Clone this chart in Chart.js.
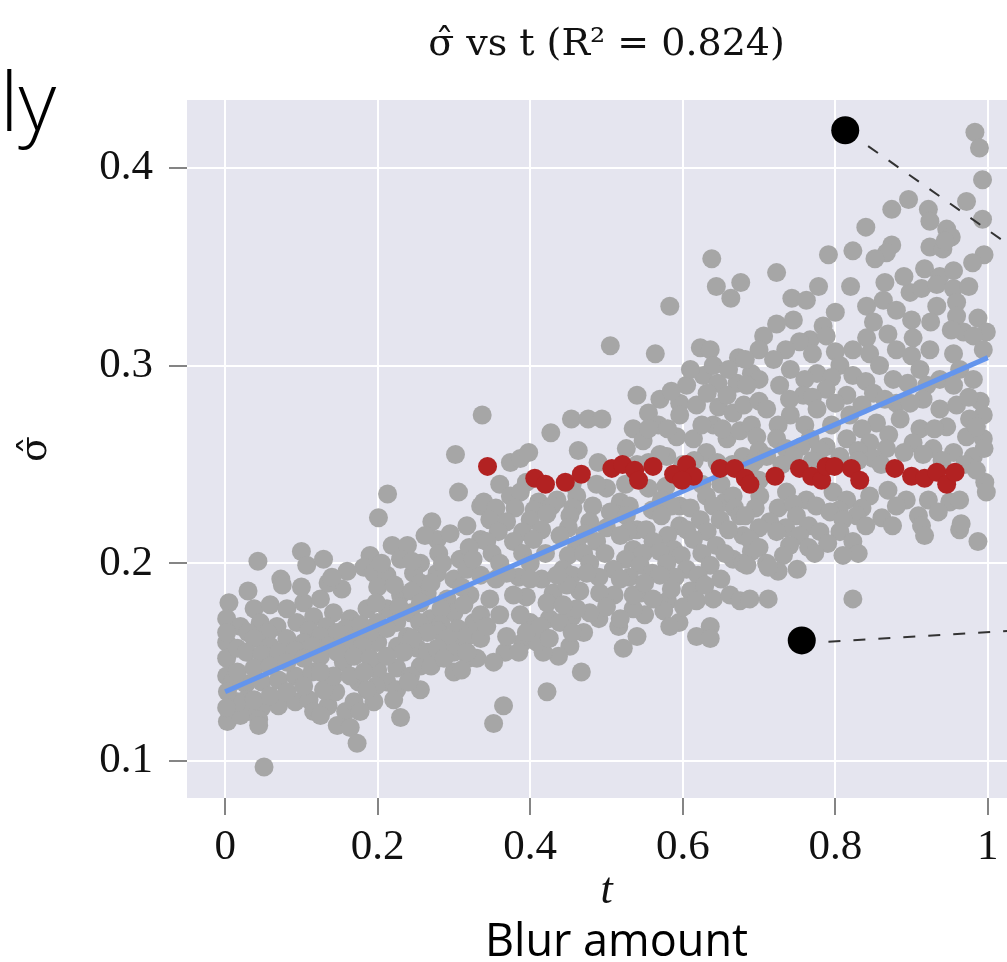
<!DOCTYPE html>
<html lang="es">
<head>
<meta charset="utf-8">
<title>sigma vs t</title>
<script src="https://cdn.jsdelivr.net/npm/chart.js@4.4.1/dist/chart.umd.min.js"></script>
<style>
  html, body { margin: 0; padding: 0; background: #fff; overflow: hidden; }
  #lienzo { position: relative; width: 1007px; height: 962px; overflow: hidden; }
  #graficoSigma { position: absolute; left: 0; top: 0; }
  .texto-diapo { position: absolute; font-family: 'Open Sans', 'Noto Sans', sans-serif; color: #000; white-space: nowrap; line-height: 1; }
  #textoLy { left: 0px; top: 58px; font-size: 82px; font-weight: 300; }
  #textoBlur { left: 485px; top: 916px; font-size: 45px; }
</style>
</head>
<body>
<div id="lienzo">
  <canvas id="graficoSigma" width="1046" height="962"></canvas>
  <div id="textoLy" class="texto-diapo">ly</div>
  <div id="textoBlur" class="texto-diapo">Blur amount</div>
</div>
<script>
// Valores: [t, sigma]
const puntosGris = [
  // zona alta
  [0.638,0.354],[0.644,0.340],[0.663,0.334],[0.676,0.342],[0.583,0.330],
  [0.983,0.418],[0.989,0.410],[0.993,0.394],[0.972,0.383],[0.993,0.374],[0.995,0.356],[0.896,0.384],[0.874,0.379],
  [0.922,0.379],[0.924,0.373],[0.946,0.369],[0.952,0.365],[0.840,0.370],[0.874,0.361],[0.867,0.357],[0.852,0.354],
  [0.823,0.358],[0.791,0.356],[0.924,0.360],[0.941,0.359],[0.944,0.363],[0.917,0.349],[0.937,0.345],[0.955,0.348],
  [0.865,0.342],[0.898,0.337],[0.913,0.339],[0.933,0.341],[0.955,0.339],[0.841,0.330],[0.863,0.333],[0.880,0.328],
  [0.900,0.323],[0.933,0.330],[0.959,0.332],[0.959,0.325],[0.987,0.324],[0.998,0.317],[0.723,0.347],[0.778,0.340],
  [0.743,0.334],[0.762,0.333],[0.745,0.323],[0.723,0.321],[0.784,0.320],[0.706,0.315],[0.841,0.314],[0.869,0.316],
  [0.902,0.314],[0.968,0.317],[0.952,0.318],[0.767,0.313],
  [0.800,0.327],[0.820,0.340],[0.850,0.322],[0.890,0.345],[0.975,0.340],[0.980,0.352],[0.925,0.322],
  // zona izquierda media
  [0.337,0.275],[0.302,0.255],[0.306,0.236],[0.213,0.235],[0.201,0.223],[0.317,0.219],[0.335,0.229],[0.271,0.221],
  [0.278,0.212],[0.219,0.209],[0.239,0.209],[0.280,0.205],[0.335,0.212],[0.190,0.204],[0.182,0.198],[0.230,0.202],
  [0.256,0.200],[0.308,0.202],[0.100,0.206],[0.107,0.199],[0.129,0.202],[0.043,0.201],[0.073,0.192],
  [0.295,0.215],[0.320,0.208],[0.262,0.214],
  // zona central
  [0.505,0.310],[0.564,0.306],[0.623,0.309],[0.636,0.308],[0.673,0.304],[0.627,0.295],[0.646,0.291],[0.671,0.291],
  [0.605,0.290],[0.540,0.285],[0.570,0.283],[0.596,0.281],[0.618,0.280],[0.647,0.279],[0.666,0.276],[0.555,0.276],
  [0.568,0.270],[0.596,0.275],[0.640,0.270],[0.535,0.268],[0.548,0.262],[0.592,0.264],[0.614,0.263],[0.658,0.263],
  [0.679,0.254],[0.526,0.258],[0.579,0.254],[0.631,0.256],[0.454,0.273],[0.476,0.273],[0.494,0.273],[0.427,0.266],
  [0.463,0.257],[0.374,0.251],[0.387,0.253],[0.398,0.256],[0.489,0.251],[0.570,0.255],
  [0.540,0.250],[0.555,0.251],[0.600,0.250],[0.615,0.252],[0.645,0.251],[0.665,0.250],[0.695,0.252],
  [0.555,0.268],[0.580,0.268],[0.625,0.270],[0.652,0.268],[0.675,0.267],
  [0.585,0.287],[0.632,0.286],[0.658,0.285],[0.680,0.280],
  [0.610,0.298],[0.640,0.300],[0.660,0.298],[0.690,0.296],
  [0.360,0.240],[0.395,0.241],[0.455,0.240],[0.500,0.238],[0.525,0.240],[0.578,0.239],[0.625,0.240],[0.650,0.240],
  [0.700,0.242],
  [0.339,0.231],[0.374,0.234],[0.387,0.236],[0.411,0.231],[0.435,0.232],[0.461,0.234],[0.487,0.240],[0.518,0.231],
  [0.555,0.238],[0.572,0.232],[0.596,0.229],[0.631,0.234],[0.655,0.231],[0.666,0.234],
  [0.355,0.228],[0.380,0.228],[0.405,0.227],[0.428,0.229],[0.456,0.228],[0.482,0.229],[0.505,0.226],[0.530,0.229],
  [0.560,0.227],[0.585,0.229],[0.610,0.228],[0.640,0.229],[0.668,0.228],
  [0.347,0.222],[0.369,0.221],[0.400,0.222],[0.422,0.225],[0.452,0.224],[0.478,0.221],[0.526,0.224],[0.540,0.217],
  [0.572,0.224],[0.596,0.219],[0.623,0.222],[0.649,0.222],[0.675,0.224],[0.679,0.214],
  [0.358,0.216],[0.390,0.216],[0.415,0.217],[0.450,0.218],[0.472,0.215],[0.500,0.218],[0.528,0.216],[0.552,0.217],
  [0.580,0.214],[0.605,0.217],[0.632,0.216],[0.660,0.217],
  [0.343,0.211],[0.378,0.211],[0.404,0.212],[0.439,0.214],[0.461,0.209],[0.487,0.211],[0.518,0.214],[0.535,0.207],
  [0.561,0.211],[0.588,0.207],[0.614,0.212],[0.644,0.209],[0.666,0.202],
  [0.350,0.205],[0.390,0.205],[0.420,0.205],[0.450,0.204],[0.470,0.205],[0.498,0.205],[0.525,0.202],[0.548,0.205],
  [0.570,0.206],[0.598,0.204],[0.625,0.205],[0.655,0.205],[0.690,0.206],
  [0.360,0.200],[0.400,0.200],[0.443,0.197],[0.478,0.200],[0.509,0.197],[0.544,0.199],[0.579,0.200],[0.605,0.197],
  [0.636,0.199],[0.679,0.200],
  [0.355,0.192],[0.385,0.193],[0.415,0.192],[0.455,0.194],[0.490,0.193],[0.530,0.193],[0.560,0.195],[0.590,0.193],
  [0.620,0.194],[0.650,0.192],
  [0.395,0.183],[0.430,0.185],[0.465,0.186],[0.510,0.184],[0.545,0.185],[0.580,0.181],[0.610,0.186],
  [0.400,0.170],[0.425,0.172],[0.455,0.173],[0.490,0.172],[0.550,0.174],[0.575,0.176],[0.595,0.170],
  [0.390,0.160],[0.452,0.158],[0.470,0.165],
  // zona derecha
  [0.753,0.312],[0.788,0.315],[0.823,0.308],[0.880,0.308],[0.924,0.308],[0.981,0.315],[0.994,0.308],
  [0.700,0.308],[0.735,0.308],[0.770,0.306],[0.800,0.307],[0.845,0.306],[0.900,0.305],[0.955,0.306],
  [0.682,0.303],[0.719,0.303],[0.741,0.298],[0.776,0.296],[0.806,0.300],[0.823,0.295],[0.858,0.300],[0.876,0.293],
  [0.911,0.298],[0.937,0.293],[0.963,0.298],[0.981,0.293],
  [0.700,0.293],[0.760,0.293],[0.795,0.294],[0.840,0.292],[0.895,0.291],[0.920,0.290],[0.955,0.290],
  [0.684,0.290],[0.727,0.290],[0.758,0.285],[0.788,0.288],[0.815,0.285],[0.850,0.286],[0.880,0.281],[0.915,0.283],
  [0.937,0.278],[0.959,0.280],[0.990,0.282],[0.994,0.275],[0.976,0.273],
  [0.700,0.282],[0.740,0.283],[0.770,0.284],[0.800,0.281],[0.835,0.280],[0.865,0.283],[0.898,0.281],[0.975,0.284],
  [0.710,0.278],[0.741,0.275],[0.776,0.278],[0.819,0.275],[0.854,0.271],[0.885,0.273],[0.911,0.268],[0.946,0.269],
  [0.972,0.264],[0.994,0.263],
  [0.690,0.270],[0.725,0.270],[0.760,0.270],[0.795,0.270],[0.835,0.268],[0.870,0.265],[0.930,0.268],[0.985,0.269],
  [0.697,0.264],[0.723,0.263],[0.767,0.263],[0.788,0.259],[0.815,0.263],[0.845,0.261],[0.867,0.258],[0.902,0.261],
  [0.928,0.258],[0.955,0.256],[0.981,0.254],
  [0.700,0.257],[0.735,0.258],[0.755,0.259],[0.780,0.257],[0.830,0.257],[0.890,0.256],[0.915,0.255],[0.940,0.252],
  [0.970,0.250],[0.995,0.258],
  [0.710,0.254],[0.745,0.254],[0.806,0.254],[0.850,0.253],[0.996,0.241],[0.998,0.236],
  [0.690,0.250],[0.730,0.250],[0.770,0.252],[0.830,0.252],[0.860,0.250],[0.985,0.247],
  [0.701,0.234],[0.736,0.236],[0.762,0.232],[0.797,0.236],[0.815,0.232],[0.845,0.234],[0.869,0.237],[0.893,0.232],
  [0.922,0.232],[0.950,0.231],[0.963,0.232],
  [0.695,0.228],[0.725,0.228],[0.745,0.230],[0.775,0.229],[0.805,0.227],[0.835,0.228],[0.880,0.229],[0.935,0.226],
  [0.682,0.224],[0.714,0.221],[0.749,0.224],[0.793,0.226],[0.828,0.224],[0.861,0.223],[0.909,0.224],[0.913,0.219],
  [0.700,0.218],[0.735,0.218],[0.765,0.219],[0.780,0.216],[0.810,0.222],[0.840,0.219],[0.875,0.219],
  [0.688,0.212],[0.723,0.216],[0.753,0.214],[0.806,0.216],[0.823,0.211],[0.917,0.214],[0.963,0.217],[0.965,0.220],
  [0.987,0.211],
  [0.700,0.208],[0.740,0.209],[0.765,0.208],[0.790,0.210],[0.830,0.205],
  [0.710,0.200],[0.773,0.205],[0.810,0.204],[0.732,0.204],[0.725,0.196],[0.750,0.197],
  // zona baja izquierda
  [0.075,0.189],[0.153,0.187],[0.005,0.180],[0.038,0.177],[0.059,0.179],[0.081,0.177],[0.103,0.180],[0.125,0.182],
  [0.030,0.186],[0.100,0.188],[0.135,0.190],[0.160,0.196],[0.140,0.193],
  [0.002,0.172],[0.020,0.168],[0.046,0.170],[0.068,0.168],[0.094,0.170],[0.116,0.173],[0.142,0.175],[0.164,0.172],
  [0.186,0.177],[0.195,0.195],[0.212,0.194],[0.247,0.195],[0.256,0.190],[0.278,0.195],[0.300,0.192],[0.317,0.197],
  [0.335,0.194],[0.230,0.184],[0.265,0.185],[0.291,0.182],[0.321,0.184],[0.212,0.177],[0.243,0.175],[0.269,0.172],
  [0.300,0.175],[0.326,0.170],
  [0.205,0.200],[0.245,0.201],[0.285,0.200],[0.325,0.202],
  [0.200,0.188],[0.222,0.189],[0.245,0.186],[0.270,0.190],[0.310,0.188],
  [0.198,0.180],[0.228,0.178],[0.256,0.180],[0.283,0.177],[0.313,0.179],
  [0.200,0.170],[0.225,0.170],[0.255,0.170],[0.283,0.169],[0.305,0.167],
  [0.030,0.165],[0.056,0.165],[0.110,0.166],[0.133,0.168],[0.158,0.167],[0.178,0.169],[0.200,0.160],[0.226,0.158],
  [0.252,0.157],[0.278,0.166],[0.304,0.160],
  [0.002,0.160],[0.002,0.152],[0.002,0.143],[0.016,0.157],[0.038,0.162],[0.059,0.158],[0.081,0.162],[0.103,0.160],
  [0.125,0.163],[0.147,0.165],[0.169,0.162],[0.190,0.165],[0.212,0.167],[0.239,0.163],[0.265,0.165],[0.291,0.162],
  [0.317,0.163],[0.319,0.152],[0.300,0.145],[0.256,0.148],[0.256,0.136],[0.212,0.140],[0.225,0.136],[0.221,0.131],
  [0.028,0.155],[0.048,0.154],[0.070,0.155],[0.092,0.156],[0.114,0.158],[0.136,0.158],[0.158,0.158],[0.180,0.158],
  [0.245,0.162],[0.265,0.155],[0.300,0.155],[0.330,0.152],
  [0.027,0.139],[0.048,0.140],[0.070,0.141],[0.092,0.143],[0.114,0.145],[0.200,0.146],[0.225,0.147],[0.243,0.143],
  [0.270,0.148],[0.310,0.146],[0.010,0.140],[0.155,0.150],[0.175,0.140],[0.198,0.138],[0.240,0.140],[0.135,0.140],
  [0.027,0.131],[0.048,0.127],[0.070,0.128],[0.092,0.130],[0.110,0.131],[0.135,0.128],[0.158,0.125],[0.195,0.130],
  [0.030,0.125],
  [0.230,0.122],[0.186,0.136],[0.169,0.130],[0.177,0.125],[0.145,0.135],[0.129,0.136],[0.116,0.125],[0.125,0.123],
  [0.147,0.118],[0.164,0.117],[0.173,0.109],[0.051,0.097],[0.003,0.120],[0.020,0.123],[0.044,0.121],[0.044,0.118],
  [0.016,0.130],[0.038,0.131],[0.059,0.133],[0.081,0.135],[0.103,0.138],[0.003,0.135],[0.016,0.145],[0.038,0.147],
  [0.059,0.148],[0.081,0.150],[0.103,0.152],[0.125,0.153],[0.147,0.155],[0.169,0.153],[0.190,0.152],[0.212,0.153],
  [0.234,0.155],[0.278,0.157],[0.287,0.152],[0.142,0.143],[0.164,0.143],[0.182,0.145],[0.125,0.145],[0.335,0.174],
  [0.335,0.162],[0.317,0.155],[0.002,0.127],[0.002,0.165],
  // zona baja central
  [0.365,0.128],[0.352,0.119],[0.422,0.135],[0.467,0.145],[0.437,0.153],[0.417,0.155],[0.367,0.155],[0.522,0.157],
  [0.540,0.163],[0.516,0.168],[0.583,0.168],[0.636,0.168],[0.618,0.163],[0.636,0.162],[0.601,0.178],[0.618,0.181],
  [0.640,0.182],[0.662,0.184],[0.675,0.181],[0.629,0.189],[0.570,0.194],[0.585,0.187],[0.561,0.182],[0.535,0.177],
  [0.518,0.172],[0.478,0.175],[0.461,0.177],[0.491,0.185],[0.518,0.192],[0.535,0.184],[0.474,0.195],[0.448,0.189],
  [0.422,0.180],[0.413,0.168],[0.409,0.160],[0.369,0.163],[0.360,0.174],[0.387,0.174],[0.347,0.182],[0.378,0.184],
  [0.400,0.192],[0.435,0.194],[0.369,0.195],[0.343,0.168],[0.439,0.170],[0.443,0.179],
  [0.395,0.165],[0.425,0.162],[0.455,0.165],[0.385,0.155],[0.352,0.150],[0.500,0.178],[0.550,0.190],
  [0.688,0.182],[0.712,0.182],[0.684,0.199],[0.712,0.198],[0.823,0.182]
];

const puntosRojos = [
  [0.344,0.249],[0.406,0.243],[0.420,0.240],[0.446,0.241],[0.467,0.245],[0.507,0.248],[0.521,0.250],[0.537,0.247],
  [0.542,0.242],[0.561,0.249],[0.588,0.245],[0.605,0.250],[0.614,0.244],[0.599,0.242],[0.649,0.248],[0.668,0.248],
  [0.682,0.243],[0.688,0.240],[0.721,0.244],[0.753,0.248],[0.769,0.244],[0.782,0.242],[0.788,0.249],[0.799,0.249],
  [0.821,0.248],[0.832,0.242],[0.878,0.248],[0.900,0.244],[0.917,0.243],[0.933,0.246],[0.946,0.240],[0.957,0.246]
];

// Recta de ajuste
const ajusteT = [0, 1];
const ajusteS = [0.135, 0.304];

// Puntos negros y guías punteadas de la diapositiva
const negroT = [0.813, 0.756];
const negroS = [0.419, 0.161];
const guia1T = [0.843, 1.05];
const guia1S = [0.411, 0.355];
const guia2T = [0.791, 1.05];
const guia2S = [0.1603, 0.1663];

// Ticks
const ticksT = [0, 0.2, 0.4, 0.6, 0.8, 1];
const ticksS = [0.1, 0.2, 0.3, 0.4];

document.addEventListener('DOMContentLoaded', () => {
  const ctx = document.getElementById('graficoSigma').getContext('2d');
  const fuenteSerif = "'Liberation Serif', 'DejaVu Serif', serif";
  const fuenteTitulo = "'DejaVu Serif', 'Liberation Serif', serif";
  const aPuntos = (ts, ss) => ts.map((t, i) => ({ x: t, y: ss[i] }));

  // Fondo lavanda del área de trazado
  const fondoArea = {
    id: 'fondoArea',
    beforeDraw(chart) {
      const { ctx, chartArea: a } = chart;
      ctx.save();
      ctx.fillStyle = '#E5E5EF';
      ctx.fillRect(a.left, a.top, a.right - a.left, a.bottom - a.top);
      ctx.restore();
    }
  };

  const grid = { color: '#FFFFFF', lineWidth: 2, drawTicks: true, tickColor: '#333333', tickWidth: 1.2 };

  new Chart(ctx, {
    type: 'scatter',
    data: {
      datasets: [
        { label: 'negro', data: aPuntos(negroT, negroS), backgroundColor: '#000000', pointRadius: 14, borderWidth: 0, order: 0 },
        { label: 'guia1', data: aPuntos(guia1T, guia1S), showLine: true, borderColor: '#333333', borderWidth: 2,
          borderDash: [12, 13], pointRadius: 0, order: 1 },
        { label: 'guia2', data: aPuntos(guia2T, guia2S), showLine: true, borderColor: '#333333', borderWidth: 2,
          borderDash: [12, 13], pointRadius: 0, order: 1 },
        { label: 'rojo', data: puntosRojos.map(p => ({ x: p[0], y: p[1] })), backgroundColor: '#B22222',
          pointRadius: 9.5, borderWidth: 0, order: 2 },
        { label: 'ajuste', data: aPuntos(ajusteT, ajusteS), showLine: true, borderColor: '#6495ED', borderWidth: 5,
          pointRadius: 0, order: 3 },
        { label: 'gris', data: puntosGris.map(p => ({ x: p[0], y: p[1] })), backgroundColor: '#A6A6A6',
          pointRadius: 9.5, borderWidth: 0, order: 4 }
      ]
    },
    options: {
      responsive: false,
      animation: false,
      events: [],
      layout: { padding: { left: 0, right: 20, top: 0, bottom: 0 } },
      plugins: {
        legend: { display: false },
        tooltip: { enabled: false },
        title: {
          display: true,
          fullSize: false,
          text: 'σ̂ vs t (R² = 0.824)',
          color: '#111111',
          font: { family: fuenteTitulo, size: 38, weight: 'normal', lineHeight: 1.2 },
          padding: { top: 22, bottom: 32.4 }
        }
      },
      scales: {
        x: {
          type: 'linear',
          min: -0.05,
          max: 1.05,
          afterFit: s => { s.height = 164; },
          afterBuildTicks: s => { s.ticks = ticksT.map(v => ({ value: v })); },
          grid: { ...grid, tickLength: 17 },
          border: { display: false },
          ticks: { font: { family: fuenteSerif, size: 43 }, color: '#111111', padding: 7, maxRotation: 0,
                   callback: v => String(v) },
          title: { display: true, text: 't', color: '#111111',
                   font: { family: fuenteSerif, size: 44, style: 'italic' }, padding: { top: 0, bottom: 44 } }
        },
        y: {
          type: 'linear',
          min: 0.0813,
          max: 0.4343,
          afterFit: s => { s.width = 187; },
          afterBuildTicks: s => { s.ticks = ticksS.map(v => ({ value: v })); },
          grid: { ...grid, tickLength: 18 },
          border: { display: false },
          ticks: { font: { family: fuenteSerif, size: 43 }, color: '#111111', padding: 16,
                   callback: v => String(v) },
          title: { display: true, text: 'σ̂', color: '#111111',
                   font: { family: fuenteTitulo, size: 38 }, padding: { top: 13, bottom: 0 } }
        }
      }
    },
    plugins: [fondoArea]
  });
});
</script>
</body>
</html>
